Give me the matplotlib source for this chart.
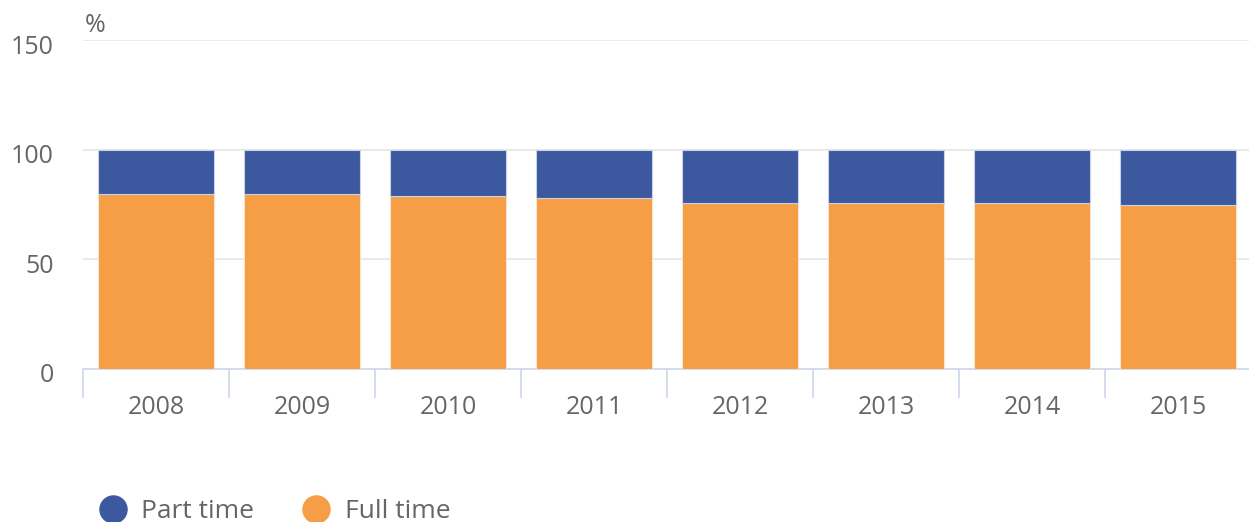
import matplotlib.pyplot as plt
import matplotlib.transforms as mtransforms
from matplotlib.lines import Line2D

plt.rcParams['font.family'] = ['Open Sans', 'DejaVu Sans']

years = ["2008", "2009", "2010", "2011", "2012", "2013", "2014", "2015"]
full_time = [79.8, 79.8, 78.7, 77.8, 75.8, 75.8, 75.8, 74.7]
part_time = [100 - v for v in full_time]

blue = "#3c59a0"
orange = "#f59e45"
text_col = "#666666"

fig = plt.figure(figsize=(12.49, 5.22), dpi=100)
ax = fig.add_axes([83 / 1249, 153 / 522, 1168 / 1249, 329 / 522])

x = list(range(len(years)))
ax.bar(x, full_time, width=0.8, color=orange, edgecolor="#fbe4cc", linewidth=0.8, zorder=3)
ax.bar(x, part_time, bottom=full_time, width=0.8, color=blue, edgecolor="#c9d1e6",
       linewidth=0.8, zorder=3)

ax.set_xlim(-0.5, len(years) - 0.5)
ax.set_ylim(0, 150)
ax.set_yticks([0, 50, 100, 150])
ax.yaxis.grid(True, color="#e6e6e6", linewidth=1.2, zorder=0)
ax.tick_params(axis="y", length=0, pad=21, labelsize=18, labelcolor=text_col)

# y labels sit a little below their grid lines
shift = mtransforms.ScaledTranslation(0, -4 / 100, fig.dpi_scale_trans)
for lbl in ax.get_yticklabels():
    lbl.set_transform(lbl.get_transform() + shift)

# category labels centred, tick marks on the boundaries
ax.set_xticks(x)
ax.set_xticklabels(years)
ax.set_xticks([i - 0.5 for i in range(len(years) + 1)], minor=True)
ax.tick_params(axis="x", which="major", length=0, pad=19, labelsize=18, labelcolor=text_col)
ax.tick_params(axis="x", which="minor", length=21, width=1.2, color="#ccd6eb")

for side in ["top", "right", "left"]:
    ax.spines[side].set_visible(False)
ax.spines["bottom"].set_color("#ccd6eb")
ax.spines["bottom"].set_linewidth(1.2)

fig.text(85 / 1249, 1 - 26 / 522, "%", fontsize=18, color=text_col, va="center", ha="left")

handles = [
    Line2D([], [], marker="o", linestyle="none", markersize=19.5, color=blue, label="Part time"),
    Line2D([], [], marker="o", linestyle="none", markersize=19.5, color=orange, label="Full time"),
]
fig.legend(handles=handles, loc="center left", bbox_to_anchor=(88 / 1249, 1 - 512 / 522),
           ncol=2, frameon=False, fontsize=19, labelcolor=text_col,
           handletextpad=0.52, columnspacing=1.8, handlelength=1.1, borderaxespad=0)

fig.savefig("out.png", dpi=100)
